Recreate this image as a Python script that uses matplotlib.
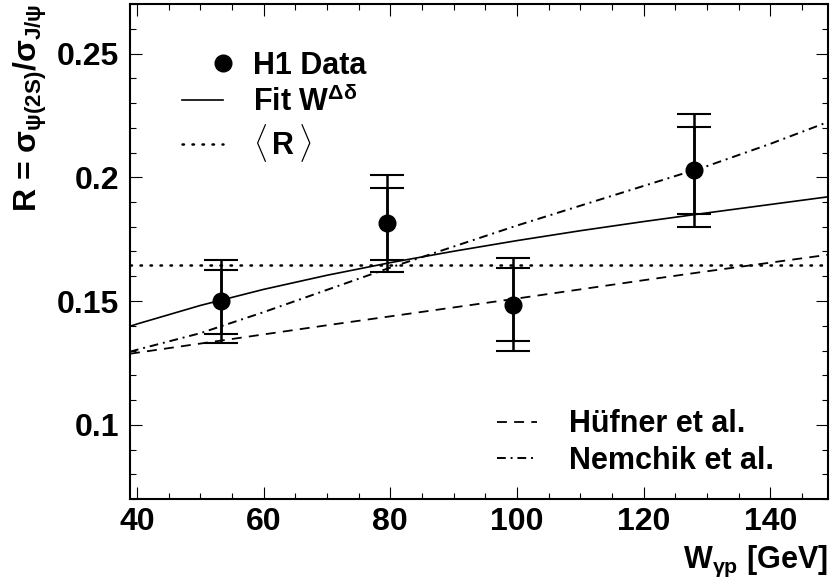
import numpy as np
import matplotlib
matplotlib.use('Agg')
import matplotlib.pyplot as plt
from matplotlib.ticker import MultipleLocator
from matplotlib.legend_handler import HandlerLine2D

#-- fonts: bold helvetica-like everywhere
plt.rcParams['font.family'] = ['Liberation Sans', 'DejaVu Sans']
plt.rcParams['font.weight'] = 'bold'
plt.rcParams['mathtext.fontset'] = 'custom'
plt.rcParams['mathtext.rm'] = 'Liberation Sans:bold'
plt.rcParams['mathtext.it'] = 'Liberation Sans:bold'
plt.rcParams['mathtext.bf'] = 'Liberation Sans:bold'

#-- H1 data points
w_data = [53.2, 79.5, 99.3, 128.0]
r_data = [0.1500, 0.1814, 0.1483, 0.2028]
stat_up = [0.0124, 0.0143, 0.0151, 0.0176]
stat_dn = [0.0132, 0.0147, 0.0146, 0.0175]
tot_up = [0.0165, 0.0194, 0.0189, 0.0227]
tot_dn = [0.0169, 0.0197, 0.0185, 0.0229]

#-- curves
w_curve = [38.9, 40, 50, 60, 70, 80, 90, 100, 110, 120, 130, 140, 150]
r_fit = [0.1398, 0.1407, 0.1482, 0.1547, 0.1604, 0.1655, 0.1701, 0.1744,
         0.1784, 0.1821, 0.1856, 0.1890, 0.1924]
r_huefner = [0.1287, 0.1291, 0.1328, 0.1365, 0.1402, 0.1438, 0.1474, 0.1510,
             0.1547, 0.1584, 0.1620, 0.1655, 0.1690]
r_nemchik = [0.1295, 0.1303, 0.1370, 0.1455, 0.1545, 0.1635, 0.1720, 0.1805,
             0.1885, 0.1965, 0.2045, 0.2135, 0.2232]
r_mean = 0.1644

x_range = [38.9, 149.1]
y_range = [0.07, 0.27]

lab_fit = r'Fit W$^{\Delta\delta}$'
lab_mean = r'$\langle\,$R$\,\rangle$'


#-- legend marker sits at the right end of the handle, as in the original
class RightMarker(HandlerLine2D):
    def get_xdata(self, legend, xdescent, ydescent, width, height, fontsize):
        xr = width - xdescent
        return [xr, xr], [xr]


fig = plt.figure(figsize=(8.3, 5.81), dpi=100)
ax = fig.add_axes([130/830, 1-499/581, 698/830, 495/581])

#-- model curves
ax.plot(w_curve, r_fit, '-', color='black', lw=1.2, label=lab_fit)
ax.axhline(r_mean, color='black', lw=1.8, linestyle=(0, (0.6, 3.4)),
           dash_capstyle='round', label=lab_mean)
ax.plot(w_curve, r_huefner, color='black', lw=1.3, linestyle=(0, (5.5, 4)),
        label='Hüfner et al.')
ax.plot(w_curve, r_nemchik, color='black', lw=1.4, linestyle=(0, (4.5, 2.5, 1, 2.5)),
        label='Nemchik et al.')

#-- data with total and statistical errors
ax.errorbar(w_data, r_data, yerr=[tot_dn, tot_up], fmt='none', ecolor='black',
            elinewidth=1.8, capsize=12, capthick=1.5)
ax.errorbar(w_data, r_data, yerr=[stat_dn, stat_up], fmt='none', ecolor='black',
            elinewidth=1.8, capsize=12, capthick=1.5)
ax.plot(w_data, r_data, 'o', color='black', markersize=12, label='H1 Data')

ax.set_xlim(x_range)
ax.set_ylim(y_range)
ax.xaxis.set_major_locator(MultipleLocator(20))
ax.xaxis.set_minor_locator(MultipleLocator(5))
ax.yaxis.set_major_locator(MultipleLocator(0.05))
ax.yaxis.set_minor_locator(MultipleLocator(0.01))
ax.set_yticks([0.1, 0.15, 0.2, 0.25])
ax.set_yticklabels(['0.1', '0.15', '0.2', '0.25'])
ax.tick_params(which='both', direction='in', top=True, right=True, width=0.8,
               labelsize=23)
ax.tick_params(which='major', length=8.6)
ax.tick_params(which='minor', length=4.3)
ax.tick_params(axis='x', pad=6)
ax.tick_params(axis='y', pad=8)
for s in ax.spines.values():
    s.set_linewidth(1.5)

ax.set_xlabel(r'W$_{\gamma p}$ [GeV]', fontsize=22, fontweight='bold')
ax.xaxis.set_label_coords(1.0, -0.09)
ax.xaxis.label.set_horizontalalignment('right')
ax.xaxis.label.set_verticalalignment('top')
ax.set_ylabel(r'R = $\sigma_{\psi(2S)}$/$\sigma_{J/\psi}$', fontsize=23,
              fontweight='bold')
ax.yaxis.set_label_coords(-0.17, 1.0)
ax.yaxis.label.set_verticalalignment('top')
ax.yaxis.label.set_horizontalalignment('right')

#-- legends
h, l = ax.get_legend_handles_labels()
hd = dict(zip(l, h))
leg1 = ax.legend([hd['H1 Data'], hd[lab_fit], hd[lab_mean]],
                 ['H1 Data', lab_fit, lab_mean],
                 loc='upper left', bbox_to_anchor=(0.074, 0.905), frameon=False,
                 fontsize=22, handlelength=1.35, handletextpad=1.0,
                 labelspacing=0.15, borderpad=0, borderaxespad=0,
                 handler_map={hd['H1 Data']: RightMarker()})
ax.add_artist(leg1)
ax.legend([hd['Hüfner et al.'], hd['Nemchik et al.']],
          ['Hüfner et al.', 'Nemchik et al.'],
          loc='upper left', bbox_to_anchor=(0.526, 0.181), frameon=False,
          fontsize=22, handlelength=1.3, handletextpad=1.05,
          labelspacing=0.2, borderpad=0, borderaxespad=0)

fig.savefig('out.png', dpi=100)
